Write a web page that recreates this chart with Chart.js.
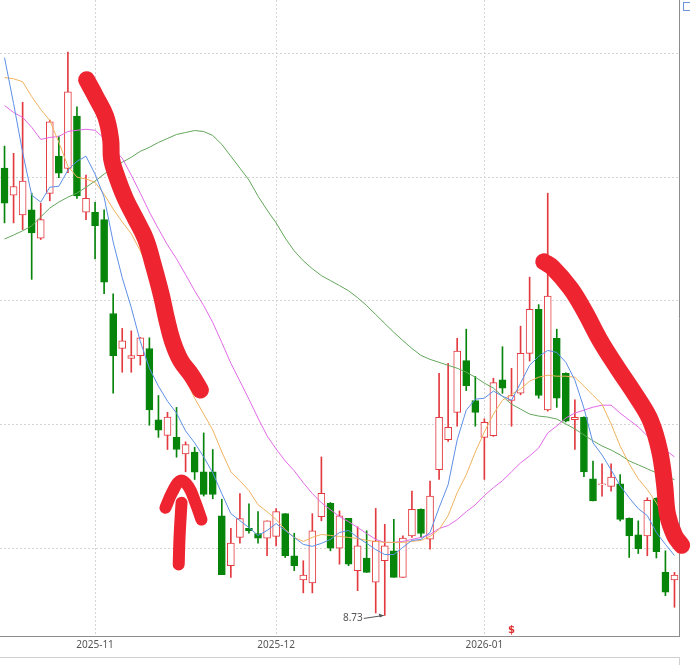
<!DOCTYPE html>
<html lang="zh-CN">
<head>
<meta charset="UTF-8">
<title>K线 日线</title>
<script src="https://cdn.jsdelivr.net/npm/chart.js@4"></script>
<style>
  html, body { margin: 0; padding: 0; background: #fff; }
  canvas { display: block; }
</style>
</head>
<body>
<canvas id="chart" width="690" height="665"></canvas>
<script>
// trading days shown on the chart
const dates = [
  '2025-10-20','2025-10-21','2025-10-22','2025-10-23','2025-10-24',
  '2025-10-27','2025-10-28','2025-10-29','2025-10-30','2025-10-31',
  '2025-11-03','2025-11-04','2025-11-05','2025-11-06','2025-11-07',
  '2025-11-10','2025-11-11','2025-11-12','2025-11-13','2025-11-14',
  '2025-11-17','2025-11-18','2025-11-19','2025-11-20','2025-11-21',
  '2025-11-24','2025-11-25','2025-11-26','2025-11-27','2025-11-28',
  '2025-12-01','2025-12-02','2025-12-03','2025-12-04','2025-12-05',
  '2025-12-08','2025-12-09','2025-12-10','2025-12-11','2025-12-12',
  '2025-12-15','2025-12-16','2025-12-17','2025-12-18','2025-12-19',
  '2025-12-22','2025-12-23','2025-12-24','2025-12-25','2025-12-26',
  '2025-12-29','2025-12-30','2025-12-31',
  '2026-01-05','2026-01-06','2026-01-07','2026-01-08','2026-01-09',
  '2026-01-12','2026-01-13','2026-01-14','2026-01-15','2026-01-16',
  '2026-01-19','2026-01-20','2026-01-21','2026-01-22','2026-01-23',
  '2026-01-26','2026-01-27','2026-01-28','2026-01-29','2026-01-30',
  '2026-02-02','2026-02-03'
];
const monthTicks = ['2025-11', '2025-12', '2026-01'];
const gridPrices = [9, 9.5, 10, 10.5, 11];

const open = [
  10.536,10.427,10.347,10.368,10.253,10.434,10.585,10.535,10.746,10.358,
  10.358,10.328,9.949,9.808,9.768,9.779,9.808,9.520,9.457,9.449,
  9.382,9.390,9.310,9.310,9.132,8.931,9.045,9.082,9.061,9.042,
  9.049,9.141,8.971,8.873,8.861,9.129,9.183,9.002,9.122,8.911,
  8.962,8.864,8.951,8.991,8.884,9.051,9.158,9.038,9.319,9.440,
  9.550,9.759,9.598,9.449,9.456,9.681,9.598,9.627,9.788,9.966,
  9.560,9.849,9.708,9.520,9.530,9.282,9.257,9.251,9.261,9.122,
  9.055,9.051,9.203,8.904,8.873
];
const high = [
  10.625,10.596,10.802,10.435,10.395,10.730,10.666,11.005,10.784,10.508,
  10.398,10.368,10.029,9.889,9.879,9.852,9.851,9.618,9.550,9.570,
  9.431,9.409,9.467,9.400,9.199,9.082,9.222,9.181,9.149,9.112,
  9.161,9.141,9.062,8.951,9.141,9.370,9.186,9.152,9.122,9.088,
  9.072,9.162,9.098,9.118,9.051,9.232,9.160,9.273,9.708,9.748,
  9.849,9.886,9.695,9.524,9.688,9.815,9.728,9.898,10.096,9.985,
  10.435,9.886,9.710,9.601,9.532,9.353,9.342,9.342,9.299,9.124,
  9.112,9.205,9.205,8.991,8.904
];
const low = [
  10.315,10.315,10.288,10.087,10.248,10.404,10.498,10.518,10.414,10.328,
  10.170,10.029,9.627,9.712,9.712,9.741,9.498,9.449,9.400,9.369,
  9.310,9.279,9.212,9.201,8.895,8.884,9.022,9.062,9.022,8.971,
  9.011,8.964,8.911,8.821,8.821,9.112,8.991,8.937,8.931,8.830,
  8.904,8.740,8.730,8.884,8.884,9.045,9.045,8.998,9.279,9.433,
  9.494,9.638,9.494,9.279,9.453,9.627,9.494,9.621,9.757,9.607,
  9.555,9.570,9.511,9.400,9.290,9.192,9.212,9.232,9.112,8.964,
  8.980,8.971,8.962,8.810,8.763
];
const close = [
  10.395,10.462,10.484,10.275,10.328,10.723,10.516,10.844,10.424,10.414,
  10.304,10.076,9.779,9.839,9.779,9.851,9.560,9.478,9.531,9.400,
  9.420,9.309,9.219,9.219,8.895,9.022,9.121,9.072,9.042,9.112,
  9.149,8.971,8.931,8.893,9.072,9.223,9.002,9.132,8.937,9.011,
  8.904,9.029,9.011,8.884,9.042,9.158,9.061,9.212,9.530,9.490,
  9.797,9.658,9.550,9.510,9.670,9.648,9.618,9.788,9.966,9.618,
  10.020,9.607,9.514,9.530,9.310,9.192,9.261,9.289,9.118,9.051,
  9.000,9.195,8.988,8.824,8.893
];

const ma5 = [
  10.982,10.797,10.600,10.427,10.399,10.459,10.463,10.528,10.564,10.584,
  10.512,10.419,10.238,10.094,9.973,9.836,9.728,9.656,9.595,9.547,
  9.475,9.427,9.370,9.306,9.222,9.141,9.113,9.085,9.053,9.073,
  9.101,9.073,9.045,9.017,9.009,9.021,9.037,9.065,9.073,9.045,
  9.021,8.996,8.976,8.976,9.005,9.033,9.037,9.065,9.165,9.258,
  9.439,9.559,9.603,9.607,9.636,9.615,9.599,9.668,9.740,9.776,
  9.800,9.792,9.752,9.680,9.567,9.427,9.378,9.318,9.254,9.205,
  9.161,9.133,9.065,9.017,8.972
];
const ma10 = [
  10.902,10.897,10.885,10.825,10.773,10.729,10.640,10.544,10.500,10.492,
  10.479,10.431,10.371,10.319,10.271,10.202,10.122,10.021,9.929,9.808,
  9.684,9.607,9.543,9.479,9.390,9.310,9.274,9.234,9.177,9.149,
  9.117,9.077,9.045,9.029,9.045,9.057,9.053,9.049,9.045,9.041,
  9.033,9.029,9.025,9.025,9.025,9.029,9.033,9.049,9.077,9.133,
  9.226,9.298,9.390,9.471,9.543,9.599,9.623,9.644,9.676,9.692,
  9.700,9.696,9.696,9.692,9.656,9.619,9.583,9.503,9.414,9.342,
  9.282,9.238,9.185,9.125,9.077
];
const ma20 = [
  10.789,10.761,10.741,10.701,10.652,10.660,10.664,10.684,10.689,10.693,
  10.689,10.656,10.616,10.576,10.508,10.435,10.359,10.291,10.226,10.170,
  10.106,10.041,9.981,9.913,9.832,9.748,9.676,9.603,9.527,9.455,
  9.402,9.354,9.314,9.266,9.222,9.185,9.157,9.129,9.109,9.085,
  9.061,9.037,9.025,9.025,9.029,9.037,9.045,9.057,9.081,9.093,
  9.117,9.149,9.177,9.214,9.246,9.274,9.310,9.346,9.374,9.406,
  9.467,9.495,9.527,9.547,9.559,9.571,9.579,9.579,9.547,9.519,
  9.491,9.455,9.423,9.398,9.370
];
const ma60 = [
  10.250,10.266,10.283,10.303,10.339,10.375,10.399,10.419,10.435,10.459,
  10.484,10.512,10.536,10.560,10.580,10.604,10.620,10.640,10.656,10.672,
  10.680,10.688,10.684,10.668,10.632,10.584,10.536,10.488,10.423,10.367,
  10.315,10.254,10.202,10.162,10.130,10.102,10.082,10.062,10.041,10.013,
  9.981,9.945,9.909,9.873,9.840,9.808,9.780,9.764,9.752,9.740,
  9.728,9.712,9.692,9.668,9.648,9.615,9.583,9.563,9.543,9.535,
  9.531,9.523,9.503,9.483,9.459,9.435,9.414,9.398,9.378,9.354,
  9.338,9.322,9.306,9.294,9.278
];

// hand-drawn red marks, as [day index, price]
const markDown1 = [
  [9.07,10.893],[10.07,10.825],[11.17,10.745],[11.72,10.652],[11.83,10.572],
  [12.38,10.504],[13.37,10.411],[14.48,10.331],[15.58,10.250],[16.46,10.142],
  [17.34,10.021],[17.89,9.929],[18.56,9.836],[19.44,9.760],[20.65,9.700],[21.64,9.640]
];
const markArrowShaft = [[19.24,8.936],[19.33,9.045],[19.55,9.185]];
const markArrowHead = [[17.78,9.165],[18.56,9.230],[19.44,9.274],[20.32,9.250],[21.09,9.185],[21.75,9.117]];
const markDown2 = [
  [59.57,10.158],[60.56,10.134],[62.55,10.049],[64.09,9.957],[65.85,9.836],
  [67.73,9.728],[69.93,9.607],[71.37,9.515],[72.36,9.394],[72.91,9.258],
  [73.24,9.137],[74.01,9.053],[74.79,9.013]
];
const dividendDay = '2026-01-08';

const RED = '#e23a3f';
const GREEN = '#07850b';
const up = close.map((c, i) => c >= open[i]);
const monthStart = monthTicks.map(m => dates.findIndex(d => d.startsWith(m)));
const toXY = pts => pts.map(p => ({ x: p[0], y: p[1] }));

function maLine(label, data, color) {
  return { type: 'line', label, data, borderColor: color, borderWidth: 1,
           pointRadius: 0, tension: 0, fill: false, order: 1 };
}
function mark(label, pts, width) {
  return { type: 'line', label, xAxisID: 'xs', data: toXY(pts), borderColor: '#ee2431',
           borderWidth: width, borderCapStyle: 'round', borderJoinStyle: 'round',
           pointRadius: 0, tension: 0.4, fill: false, clip: false, order: 0 };
}

const extras = {
  id: 'extras',
  afterDraw(chart) {
    const { ctx, chartArea: a, scales: { x, y } } = chart;
    ctx.save();
    // lowest price tag with arrow
    const li = low.indexOf(Math.min(...low));
    const px = x.getPixelForValue(li), py = y.getPixelForValue(low[li]);
    ctx.strokeStyle = '#555'; ctx.fillStyle = '#555'; ctx.lineWidth = 1;
    ctx.beginPath(); ctx.moveTo(px - 21, py + 3); ctx.lineTo(px - 1, py); ctx.stroke();
    ctx.beginPath(); ctx.moveTo(px - 1, py); ctx.lineTo(px - 6, py - 2); ctx.lineTo(px - 5, py + 2); ctx.closePath(); ctx.fill();
    ctx.font = '10px "Noto Sans", sans-serif'; ctx.textAlign = 'right'; ctx.textBaseline = 'middle';
    ctx.fillText(low[li].toFixed(2), px - 22, py + 3);
    // dividend marker
    const di = dates.indexOf(dividendDay);
    ctx.fillStyle = '#e03030'; ctx.textAlign = 'center'; ctx.textBaseline = 'bottom';
    ctx.font = 'bold 10px "DejaVu Sans", sans-serif';
    ctx.fillText('$', x.getPixelForValue(di), a.bottom - 1);
    // panel below and corner icon
    ctx.strokeStyle = '#cfcfcf';
    ctx.beginPath(); ctx.moveTo(0, a.bottom + 21.5); ctx.lineTo(a.right + 0.5, a.bottom + 21.5);
    ctx.lineTo(a.right + 0.5, chart.height); ctx.stroke();
    ctx.strokeStyle = '#6b93d6';
    ctx.strokeRect(a.right + 4.5, 2.5, 8, 8);
    ctx.restore();
  }
};

new Chart(document.getElementById('chart'), {
  type: 'bar',
  data: {
    labels: dates,
    datasets: [
      { type: 'bar', label: 'wick', data: low.map((l, i) => [l, high[i]]),
        backgroundColor: up.map(u => u ? RED : GREEN), barThickness: 1, grouped: false, order: 3 },
      { type: 'bar', label: 'body', data: open.map((o, i) => [o, close[i]]),
        backgroundColor: up.map(u => u ? '#ffffff' : GREEN), borderColor: up.map(u => u ? RED : GREEN),
        borderWidth: 1, borderSkipped: false, barThickness: 7, minBarLength: 1, grouped: false, order: 2 },
      maLine('MA5', ma5, '#5d8fe6'),
      maLine('MA10', ma10, '#efb25f'),
      maLine('MA20', ma20, '#e16ae6'),
      maLine('MA60', ma60, '#63a75b'),
      mark('down1', markDown1, 17),
      mark('shaft', markArrowShaft, 12),
      mark('head', markArrowHead, 12),
      mark('down2', markDown2, 17)
    ]
  },
  options: {
    responsive: false,
    animation: false,
    layout: { padding: { left: 0, right: 11, top: 0, bottom: 11 } },
    plugins: { legend: { display: false }, tooltip: { enabled: false } },
    scales: {
      x: {
        grid: { offset: false, drawTicks: false,
                color: c => monthStart.includes(c.index) ? '#d4d4d4' : 'rgba(0,0,0,0)' },
        border: { display: true, color: '#8c8c8c', dash: [2, 2] },
        ticks: { autoSkip: false, maxRotation: 0, padding: 3, color: '#555',
                 font: { size: 10, family: '"Noto Sans", sans-serif' },
                 callback: (v, i) => monthStart.includes(i) ? dates[i].slice(0, 7) : '' }
      },
      xs: { type: 'linear', display: false, offset: false, grace: 0,
            min: -0.5, max: dates.length - 0.5 },
      y: {
        position: 'right', min: 8.647, max: 11.215,
        afterBuildTicks: axis => { axis.ticks = gridPrices.map(v => ({ value: v })); },
        ticks: { display: false },
        grid: { drawTicks: false, color: '#d4d4d4' },
        border: { display: true, color: '#8c8c8c', dash: [2, 2] }
      }
    }
  },
  plugins: [extras]
});
</script>
</body>
</html>
